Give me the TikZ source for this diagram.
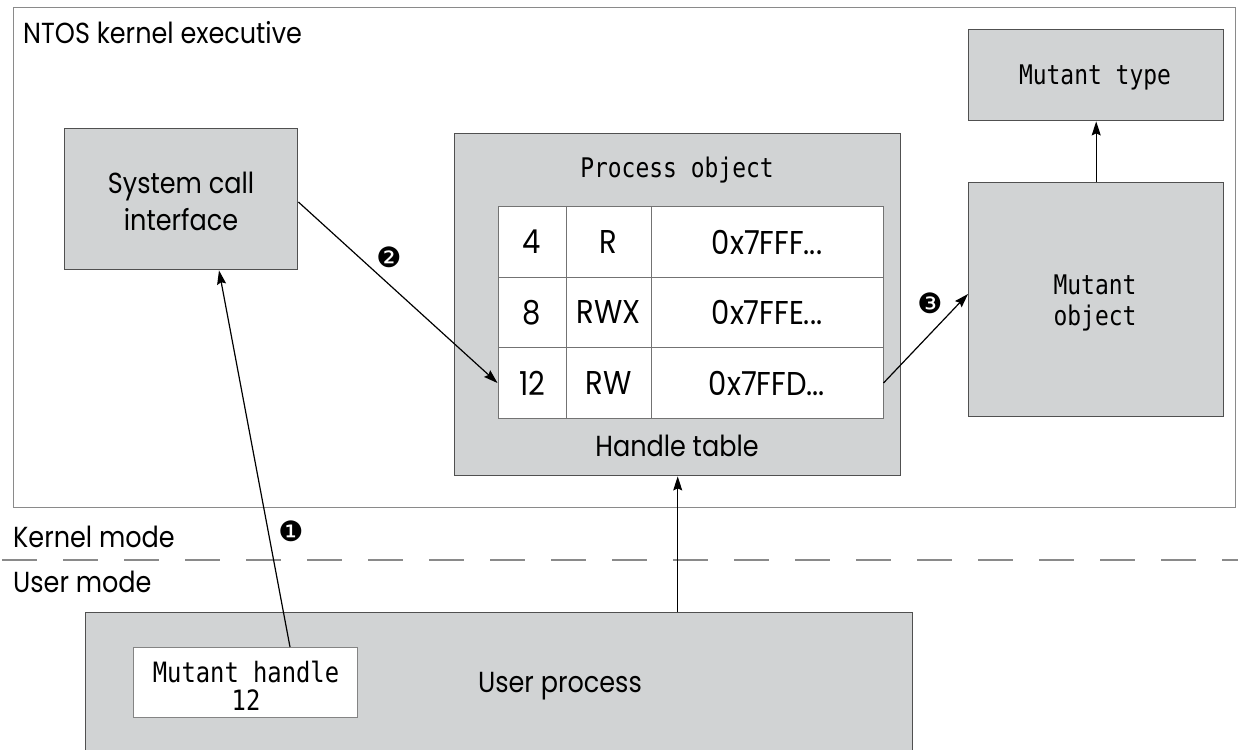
\documentclass[tikz,border=0pt]{standalone}
\usepackage{fontspec}
\setmainfont{Poppins}[FakeStretch=0.88]
\newfontfamily\monof[FakeStretch=0.85]{DejaVu Sans Mono}
\newfontfamily\dingf{DejaVu Sans}
\usetikzlibrary{arrows.meta,calc}
\definecolor{boxfill}{HTML}{D1D3D4}
\definecolor{boxline}{HTML}{505050}
\definecolor{outline}{HTML}{8A8A8A}
\tikzset{
  box/.style={draw=boxline, line width=1.4pt, fill=boxfill, inner sep=0pt, anchor=north west},
  whitebox/.style={draw=boxline!70, line width=1.2pt, fill=white, inner sep=0pt, anchor=north west},
  cell/.style={draw=boxline!80, line width=1pt, fill=white, inner sep=0pt, minimum height=70.5pt, font=\fontsize{33}{36}\selectfont},
  lbl/.style={inner sep=0pt, font=\fontsize{29}{36}\selectfont},
  mono/.style={inner sep=0pt, font=\monof\fontsize{27}{36}\selectfont, align=center},
  arr/.style={line width=1.2pt, -{Stealth[length=14pt,width=9pt,inset=2pt]}},
  num/.style={inner sep=0pt, font=\dingf\fontsize{28}{28}\selectfont},
}
\begin{document}
\begin{tikzpicture}[x=1pt,y=-1pt]
\useasboundingbox (0,0) rectangle (1238,749);
% outer kernel box
\node[draw=outline, line width=1.4pt, fill=white, inner sep=0pt, anchor=north west,
      minimum width=1222pt, minimum height=500pt] (ntos) at (13,7) {};
\node[lbl, anchor=west] (ntosl) at (23,33) {NTOS kernel executive};
% system call interface
\node[box, minimum width=233pt, minimum height=141pt] (sys) at (64,128) {};
\node[lbl, align=center, font=\fontsize{29}{37}\selectfont] (sysl) at (181,201) {System call\\interface};
% process object
\node[box, minimum width=446pt, minimum height=342pt] (proc) at (454,133) {};
\node[mono] (procl) at (677,170) {Process object};
\node[lbl] (htl) at (677,446) {Handle table};
% table
\node[cell, minimum width=68pt] (r1a) at (532,242) {4};
\node[cell, minimum width=85pt] (r1b) at (608.5,242) {R};
\node[cell, minimum width=232pt] (r1c) at (767,242) {0x7FFF...};
\node[cell, minimum width=68pt] (r2a) at (532,312.5) {8};
\node[cell, minimum width=85pt] (r2b) at (608.5,312.5) {RWX};
\node[cell, minimum width=232pt] (r2c) at (767,312.5) {0x7FFE...};
\node[cell, minimum width=68pt] (r3a) at (532,383) {12};
\node[cell, minimum width=85pt] (r3b) at (608.5,383) {RW};
\node[cell, minimum width=232pt] (r3c) at (767,383) {0x7FFD...};
% mutant type / object
\node[box, minimum width=255pt, minimum height=91pt] (mtype) at (968,29) {};
\node[mono] (mtypel) at (1095,77) {Mutant type};
\node[box, minimum width=255pt, minimum height=234pt] (mobj) at (968,182) {};
\node[mono, font=\monof\fontsize{27}{31}\selectfont] (mobjl) at (1095,303) {Mutant\\object};
% mode separator
\coordinate (dl) at (0,560);
\coordinate (dr) at (1238,560);
\draw[draw=outline, line width=2pt, dash pattern=on 35pt off 26pt, dash phase=-2pt] (dl) -- (dr);
\node[lbl, anchor=west] (km) at (13,537) {Kernel mode};
\node[lbl, anchor=west] (um) at (13,582) {User mode};
% user process
\node[box, minimum width=827pt, minimum height=160pt] (user) at (85,612) {};
\node[lbl] (userl) at (560,686) {User process};
\node[whitebox, minimum width=224pt, minimum height=70pt] (hnd) at (133,647) {};
\node[mono, font=\monof\fontsize{28}{28}\selectfont] (hndl) at (246,686) {Mutant handle\\12};
% arrows
\draw[arr] ($(hnd.north west)+(157,0)$) -- ($(sys.south west)+(155,0)$);
\draw[arr] ($(sys.north east)+(0,74)$) -- (r3a.west);
\draw[arr] (r3c.east) -- ($(mobj.north west)+(0,112)$);
\draw[arr] (proc.south |- user.north) -- (proc.south);
\draw[arr] (mobj.north) -- (mtype.south);
% step numbers
\node[num] (n1) at (291,531) {❶};
\node[num] (n2) at (389,257) {❷};
\node[num] (n3) at (930,303) {❸};
\end{tikzpicture}
\end{document}
